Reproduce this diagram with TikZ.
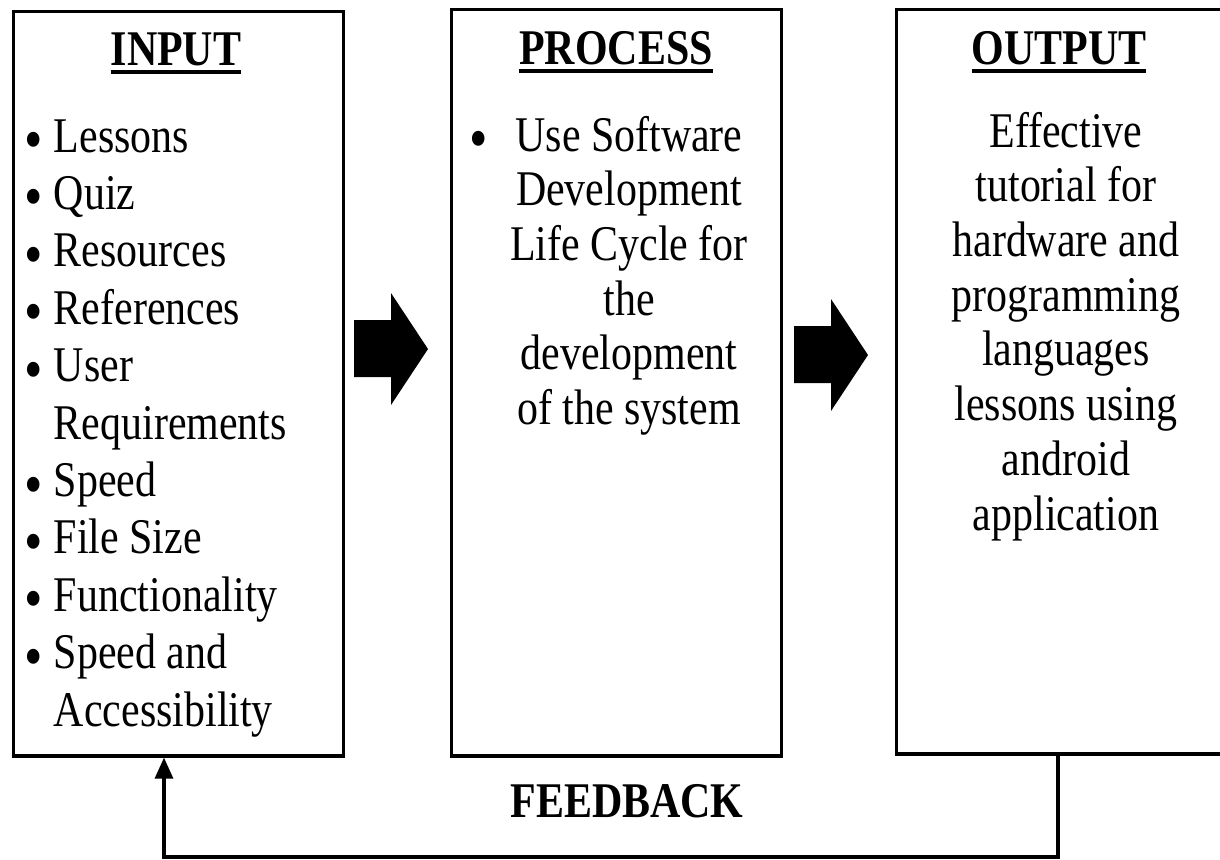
\documentclass[tikz,border=0pt]{standalone}
\usepackage{fontspec}
\setmainfont[FakeStretch=0.84]{Liberation Serif}
\usetikzlibrary{arrows.meta}
\def\blockarrow(#1,#2){\fill (#1,#2) ++(0,-29) -- ++(37,0) -- ++(0,-27) -- ++(37,56) -- ++(-37,56) -- ++(0,-28) -- ++(-37,0) -- cycle;}
\newcommand{\boxtitle}[1]{\setbox0\hbox{\bfseries #1}\leavevmode\rlap{\rule[-2.5pt]{\wd0}{1pt}}\box0}
\newcommand{\bul}{\raisebox{-2.4pt}{\fontsize{17.8}{16}\selectfont\textbullet}}

\begin{document}
\begin{tikzpicture}[x=0.01cm, y=-0.01cm,
	stage/.style={draw, line width=0.9pt, anchor=north west, inner sep=0pt},
	txt/.style={inner sep=0pt, anchor=base, font=\fontsize{14.2}{16.33}\selectfont},
	para/.style={txt, text width=3.2cm, align=flush center, font=\fontsize{14.2}{15.56}\selectfont},
	fbline/.style={line width=0.9pt, -{Triangle[length=0.21cm, width=0.18cm]}}]
		%%%%% START %%%%%
		\clip (0, 0) rectangle (1220, 859);
		
		\node[stage, minimum width=3.3cm, minimum height=7.44cm] (input) at (12, 10) {};
		\node[stage, minimum width=3.3cm, minimum height=7.46cm] (process) at (450, 8) {};
		\node[stage, minimum width=3.5cm, minimum height=7.44cm] (output) at (895, 8) {};
		
		\node[txt] (inputttl) at (176, 65) {\boxtitle{INPUT}};
		\node[txt] (processttl) at (616, 64) {\boxtitle{PROCESS}};
		\node[txt] (outputttl) at (1059, 64) {\boxtitle{OUTPUT}};
		
		\node[txt, anchor=base west] (inputlist) at (23.8, 152) {%
			\begin{tabular}[t]{@{}l@{\hspace{0.11cm}}l@{}}
				\bul & Lessons\\
				\bul & Quiz\\
				\bul & Resources\\
				\bul & References\\
				\bul & User\\
				& Requirements\\
				\bul & Speed\\
				\bul & File Size\\
				\bul & Functionality\\
				\bul & Speed and\\
				& Accessibility
			\end{tabular}};
		
		\node[txt, anchor=base west] (processbul) at (468.8, 151) {\bul};
		\node[para] (processtxt) at (629, 151) {Use Software\\ Development\\ Life Cycle for\\ the\\ development\\ of the system};
		
		\node[para] (outputtxt) at (1066, 147) {Effective\\ tutorial for\\ hardware and\\ programming\\ languages\\ lessons using\\ android\\ application};
		
		\blockarrow(354, 349)
		\blockarrow(794, 355)
		
		% feedback loop back to the input
		\coordinate (fbr) at (1058, 857);
		\coordinate (fbl) at (164, 857);
		\draw[fbline] (output.south -| fbr) -- (fbr) -- (fbl) -- (input.south -| fbl);
		\node[txt, font=\fontsize{14.2}{16.33}\selectfont\bfseries] (fbtxt) at (627, 817) {FEEDBACK};
		%%%%% END %%%%%
\end{tikzpicture}
\end{document}
